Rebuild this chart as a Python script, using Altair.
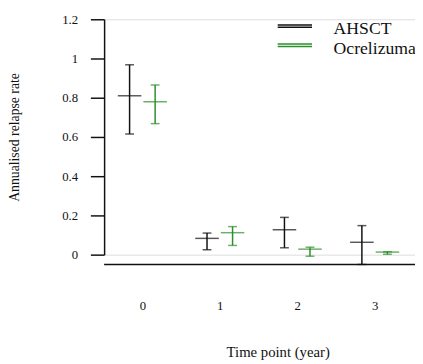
import altair as alt
import pandas as pd

# ---- data ----
time_points = [0, 1, 2, 3]
groups = ["AHSCT", "Ocrelizumab"]

ahsct_est = [0.810, 0.083, 0.127, 0.063]
ahsct_lo = [0.615, 0.025, 0.035, -0.050]
ahsct_hi = [0.968, 0.110, 0.190, 0.148]

ocre_est = [0.780, 0.112, 0.028, 0.013]
ocre_lo = [0.668, 0.047, -0.008, 0.002]
ocre_hi = [0.865, 0.143, 0.038, 0.015]

y_ticks = [0, 0.2, 0.4, 0.6, 0.8, 1, 1.2]
baseline_value = -0.05
dodge = 0.165  # horizontal dodge between the two groups, in x units

colors = ["#111111", "#2b8f2b"]
FONT = "Liberation Serif"

rows = []
for g, est, lo, hi in [(groups[0], ahsct_est, ahsct_lo, ahsct_hi),
                       (groups[1], ocre_est, ocre_lo, ocre_hi)]:
    for t, e, l, h in zip(time_points, est, lo, hi):
        rows.append({"time": t, "group": g, "est": e, "lo": l, "hi": h})
df = pd.DataFrame(rows)

x_scale = alt.Scale(domain=[-0.494, 3.521], nice=False, zero=False)
y_scale = alt.Scale(domain=[0, 1.2], nice=False, zero=False)
col_scale = alt.Scale(domain=groups, range=colors)

x_axis = alt.Axis(
    values=time_points, format="d", domain=False, ticks=False, tickSize=0,
    grid=False, labelPadding=46, labelFontSize=13, labelFont=FONT,
    labelColor="#111", title="Time point (year)", titleFont=FONT,
    titleFontSize=15, titleFontWeight="normal", titleColor="#111",
    titleX=177, titleY=104, titleBaseline="alphabetic", titleAlign="center",
)

y_axis = alt.Axis(
    values=y_ticks, format="~g", grid=False, domain=True, domainColor="#111",
    domainWidth=1.5, tickColor="#111", tickWidth=1.5, tickSize=14,
    labelPadding=13, labelFontSize=13, labelFont=FONT, labelColor="#111",
    labelOverlap=False, labelFlush=False,
    title="Annualised relapse rate", titleFont=FONT, titleFontSize=14,
    titleFontWeight="normal", titleColor="#111", titleX=-91, titleY=120,
    titleAngle=-90, titleBaseline="middle", titleAlign="center",
)


def xenc():
    return alt.X("xpos:Q", scale=x_scale, axis=x_axis)


def yenc(field):
    return alt.Y(field, scale=y_scale, axis=y_axis)


base = alt.Chart(df).transform_calculate(
    xpos=f"datum.time + (datum.group === '{groups[0]}' ? -{dodge} : {dodge})"
)

vert = base.mark_rule(strokeWidth=1.5).encode(
    x=xenc(),
    y=yenc("lo:Q"),
    y2="hi:Q",
    color=alt.Color(
        "group:N", scale=col_scale,
        legend=alt.Legend(
            title=None, orient="none", legendX=185.5, legendY=1.5, padding=0,
            symbolType="M-3.5,-0.94H3.5M-3.5,-0.46H3.5", symbolSize=100,
            symbolStrokeWidth=1.6, labelOffset=30.5, labelFont=FONT,
            labelFontSize=18, labelColor="#111", rowPadding=1.5,
            labelLimit=200,
        ),
    ),
)

cap_lo = base.mark_tick(orient="horizontal", size=9, thickness=1.5).encode(
    x=xenc(), y=yenc("lo:Q"),
    color=alt.Color("group:N", scale=col_scale, legend=None),
)
cap_hi = base.mark_tick(orient="horizontal", size=9, thickness=1.5).encode(
    x=xenc(), y=yenc("hi:Q"),
    color=alt.Color("group:N", scale=col_scale, legend=None),
)
cross = base.mark_tick(orient="horizontal", size=24, thickness=1.5).encode(
    x=xenc(), y=yenc("est:Q"),
    color=alt.Color("group:N", scale=col_scale, legend=None),
)

axis_line = alt.Chart(pd.DataFrame({"v": [baseline_value]})).mark_rule(
    color="#111", strokeWidth=1.5
).encode(y=yenc("v:Q"))

chart = alt.layer(vert, cap_lo, cap_hi, cross, axis_line).properties(
    width=317, height=240,
    autosize=alt.AutoSizeParams(type="none"),
    padding={"left": 98, "top": 8, "right": 0, "bottom": 108},
).configure_view(stroke=None).configure(
    background="white", font=FONT
).configure_legend(labelFont=FONT).configure_axis(labelFont=FONT, titleFont=FONT)

chart.save("out.html", embed_options={"renderer": "svg", "actions": False})
